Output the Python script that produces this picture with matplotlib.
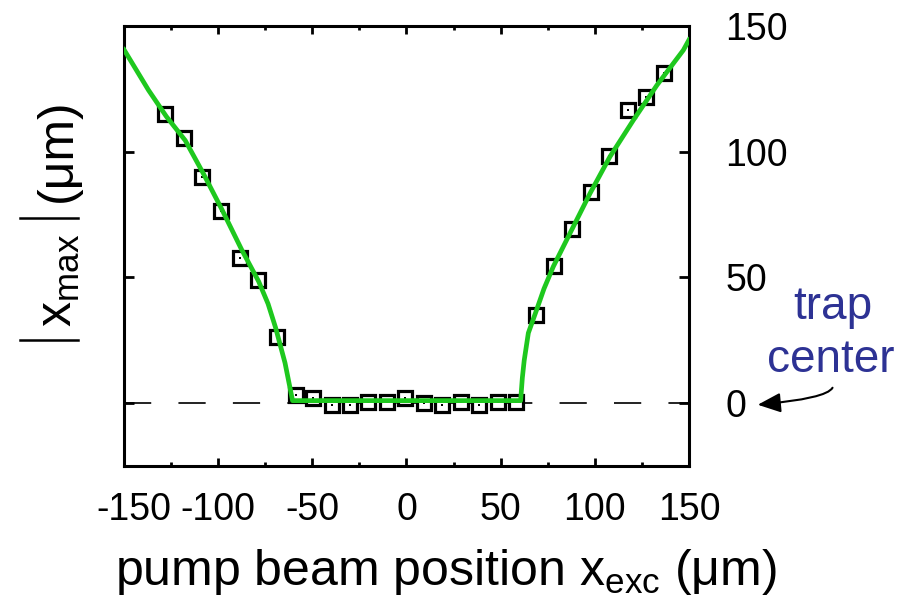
import numpy as np
import matplotlib
matplotlib.use('Agg')
import matplotlib.pyplot as plt
import matplotlib.transforms as mtransforms
from matplotlib.lines import Line2D

plt.rcParams['font.family'] = ['Liberation Sans', 'DejaVu Sans']
plt.rcParams['mathtext.fontset'] = 'custom'
plt.rcParams['mathtext.rm'] = 'Liberation Sans'
plt.rcParams['mathtext.it'] = 'Liberation Sans'
plt.rcParams['axes.unicode_minus'] = False

# measured points
x_exc = [-128.0, -118.2, -108.4, -98.6, -88.6, -78.8, -69.0, -58.8, -49.6,
         -39.8, -30.0, -20.2, -10.4, -0.6, 9.2, 19.0, 28.8, 38.6, 48.4, 58.2,
         68.8, 78.4, 88.1, 97.8, 107.7, 117.5, 127.0, 136.9]
x_max = [115.0, 105.3, 90.1, 76.5, 57.7, 49.1, 26.3, 3.1, 2.1,
         -0.8, -0.8, 0.3, 0.3, 2.0, 0.0, -0.8, 0.3, -0.8, 0.5, 0.5,
         35.0, 54.4, 69.2, 84.1, 98.3, 116.5, 121.6, 131.3]

# fitted curve
fit_x = [-150.0, -137.0, -127.5, -117.5, -108.0, -98.0, -87.5, -78.5, -73.5,
         -69.5, -64.5, -60.5, 60.6, 61.5, 62.5, 64.7, 68.8, 73.0, 78.0,
         87.7, 97.5, 108.0, 120.5, 133.0, 147.0, 150.0]
fit_y = [140.6, 124.5, 114.0, 104.5, 91.5, 77.0, 61.0, 48.4, 39.5,
         30.0, 16.0, 1.0, 1.0, 10.0, 17.0, 27.9, 36.5, 45.5, 54.4,
         68.9, 83.5, 98.0, 112.6, 126.5, 140.4, 144.5]

W, H = 920, 605

fig = plt.figure(figsize=(W / 100, H / 100), dpi=100)
ax = fig.add_axes([124 / W, 1 - 466 / H, 565 / W, 440 / H])

ax.axhline(0, color='#222222', lw=1.4, dashes=(14, 14), zorder=1)
ax.plot(x_exc, x_max, ls='none', marker='s', ms=9.5, mfc='white',
        mec='black', mew=2.3, zorder=2)
ax.plot(x_exc, x_max, ls='none', marker='s', ms=1.6, mfc='black',
        mec='black', mew=0, zorder=3)
ax.plot(fit_x, fit_y, color='#1ec81e', lw=3.4, zorder=4)

ax.set_xlim(-150, 150)
ax.set_ylim(-25, 150)
ax.set_xticks([-150, -100, -50, 0, 50, 100, 150])
ax.set_xticks([-125, -75, -25, 25, 75, 125], minor=True)
ax.set_yticks([0, 50, 100, 150])
ax.tick_params(axis='x', which='both', direction='in', top=True, bottom=True,
               labelsize=27, pad=19, width=2)
ax.tick_params(axis='x', which='major', length=6)
ax.tick_params(axis='x', which='minor', length=3)
ax.tick_params(axis='y', direction='in', left=True, right=True,
               labelleft=False, labelright=True, labelsize=27, pad=26,
               length=7, width=2)
for s in ax.spines.values():
    s.set_linewidth(2.2)

# first x label sits a bit to the right in the original
lbl = ax.get_xticklabels()[0]
lbl.set_transform(lbl.get_transform() +
                  mtransforms.ScaledTranslation(0.1, 0, fig.dpi_scale_trans))

fig.text(446 / W, 1 - 572 / H, r'pump beam position x$_{\mathrm{exc}}$ (μm)',
         fontsize=36, ha='center', va='center')

# y label: |x_max| (um), built from pieces
fig.text(72 / W, 1 - 280 / H, r'x$_{\mathrm{max}}$', fontsize=36,
         rotation=90, rotation_mode='anchor', ha='center', va='baseline')
fig.text(71 / W, 1 - 150 / H, '(μm)', fontsize=36,
         rotation=90, rotation_mode='anchor', ha='center', va='baseline')
for yb in (218, 340):
    fig.add_artist(Line2D([20 / W, 78 / W], [1 - yb / H, 1 - yb / H],
                          color='black', lw=1.8, transform=fig.transFigure))

blue = '#2d3294'
fig.text(833 / W, 1 - 307 / H, 'trap', color=blue, fontsize=33,
         ha='center', va='center')
fig.text(831 / W, 1 - 360 / H, 'center', color=blue, fontsize=33,
         ha='center', va='center')
ax.annotate('', xy=(755 / W, 1 - 405 / H), xycoords='figure fraction',
            xytext=(833 / W, 1 - 385 / H), textcoords='figure fraction',
            arrowprops=dict(arrowstyle='-|>,head_length=0.7,head_width=0.3',
                            connectionstyle='angle3,angleA=-80,angleB=5',
                            color='black', lw=1.5, mutation_scale=20),
            annotation_clip=False)

fig.savefig('out.png', dpi=100)
